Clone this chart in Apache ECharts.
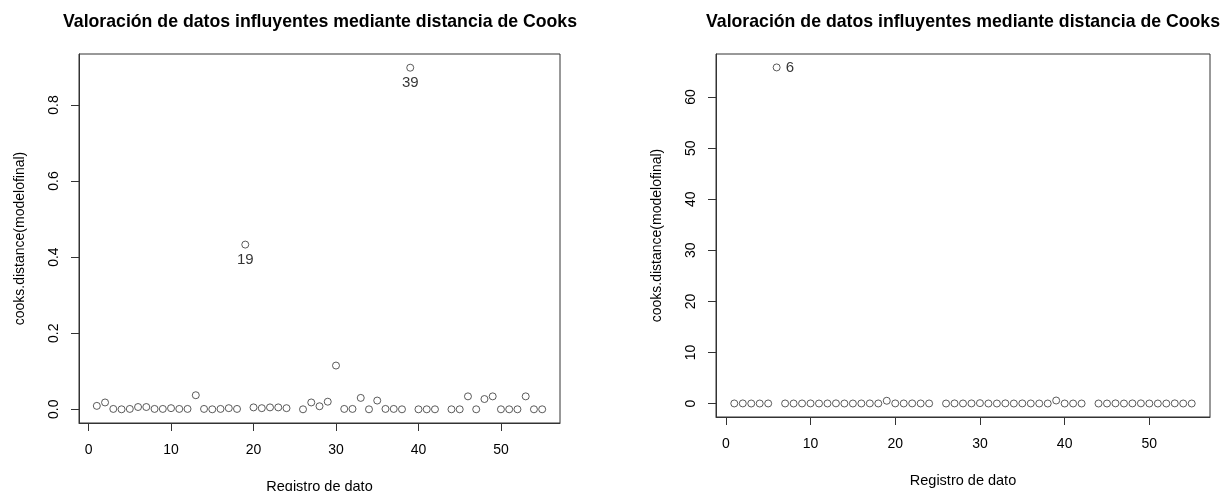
<!DOCTYPE html>
<html>
<head>
<meta charset="utf-8">
<script src="https://cdn.jsdelivr.net/npm/echarts@6/dist/echarts.min.js"></script>
<style>
html,body{margin:0;padding:0;background:#fff;}
#c{width:1227px;height:491px;}
</style>
</head>
<body>
<div id="c"></div>
<script>
const titleText = 'Valoración de datos influyentes mediante distancia de Cooks';
const xName = 'Registro de dato';
const yName = 'cooks.distance(modelofinal)';
const registros = [1,2,3,4,5,6,7,8,9,10,11,12,13,14,15,16,17,18,19,20,21,22,23,24,
  26,27,28,29,30,31,32,33,34,35,36,37,38,39,40,41,42,
  44,45,46,47,48,49,50,51,52,53,54,55];
const cooksLeft = [0.009,0.018,0.001,0.000,0.001,0.006,0.006,0.001,0.001,0.003,0.001,0.001,0.037,0.001,0.000,0.001,0.003,0.001,0.433,0.005,0.003,0.005,0.005,0.003,
  0.000,0.018,0.008,0.020,0.115,0.001,0.001,0.030,0.000,0.023,0.001,0.001,0.000,0.898,0.000,0.000,0.000,
  0.000,0.000,0.034,0.000,0.027,0.034,0.000,0.000,0.000,0.034,0.000,0.000];
const cooksRight = [0.02,0.03,0.01,0.01,0.02,65.8,0.02,0.01,0.02,0.03,0.01,0.02,0.04,0.01,0.01,0.02,0.03,0.02,0.55,0.03,0.02,0.03,0.02,0.02,
  0.01,0.03,0.02,0.03,0.08,0.01,0.01,0.04,0.01,0.03,0.02,0.01,0.01,0.60,0.01,0.01,0.01,
  0.01,0.01,0.04,0.01,0.03,0.04,0.01,0.01,0.01,0.04,0.01,0.01];
const labelledLeft = [19, 39];
const labelledRight = [6];
const xTicks = [0,10,20,30,40,50];
const yTicksLeft = [0,0.2,0.4,0.6,0.8];
const yTicksRight = [0,10,20,30,40,50,60];

const FONT = '"Liberation Sans", Arial, sans-serif';
const axisCol = '#333';

function pts(vals, labelled, pos) {
  return registros.map((r, i) => {
    const item = { value: [r, vals[i]] };
    if (labelled.indexOf(r) >= 0) {
      item.label = {
        show: true, position: pos, formatter: String(r),
        fontFamily: FONT, fontSize: 15, color: '#000',
        distance: pos === 'bottom' ? 4 : 5
      };
    }
    return item;
  });
}

function xAxis(gi) {
  return {
    gridIndex: gi, type: 'value', min: -1.16, max: 57.16,
    name: xName, nameLocation: 'middle', nameGap: 56,
    nameTextStyle: { fontFamily: FONT, fontSize: 14.5, color: '#000' },
    axisLine: { show: true, onZero: false, lineStyle: { color: axisCol } },
    axisTick: { show: true, inside: false, length: 8, lineStyle: { color: axisCol }, customValues: xTicks },
    axisLabel: { show: true, margin: 20, fontFamily: FONT, fontSize: 14, color: '#000', customValues: xTicks },
    splitLine: { show: false }
  };
}

function yAxis(gi, min, max, ticks, fmt) {
  return {
    gridIndex: gi, type: 'value', min: min, max: max,
    name: yName, nameLocation: 'middle', nameGap: 52, nameRotate: 90,
    nameTextStyle: { fontFamily: FONT, fontSize: 14, color: '#000' },
    axisLine: { show: true, onZero: false, lineStyle: { color: axisCol } },
    axisTick: { show: true, inside: false, length: 8, lineStyle: { color: axisCol }, customValues: ticks },
    axisLabel: { show: true, rotate: 90, margin: 18, fontFamily: FONT, fontSize: 14, color: '#000',
      customValues: ticks, formatter: fmt },
    splitLine: { show: false }
  };
}

const chart = echarts.init(document.getElementById('c'), null, { renderer: 'canvas' });
chart.setOption({
  backgroundColor: '#fff',
  animation: false,
  title: [
    { text: titleText, left: 315, top: 8, textAlign: 'center',
      textStyle: { fontFamily: FONT, fontSize: 17.7, fontWeight: 'bold', color: '#000' } },
    { text: titleText, left: 958, top: 8, textAlign: 'center',
      textStyle: { fontFamily: FONT, fontSize: 17.7, fontWeight: 'bold', color: '#000' } }
  ],
  grid: [
    { left: 79, top: 54, width: 481, height: 369, outerBoundsMode: 'none', containLabel: false,
      show: true, borderColor: axisCol, borderWidth: 1, backgroundColor: 'transparent' },
    { left: 716, top: 54, width: 494, height: 363, outerBoundsMode: 'none', containLabel: false,
      show: true, borderColor: axisCol, borderWidth: 1, backgroundColor: 'transparent' }
  ],
  xAxis: [xAxis(0), xAxis(1)],
  yAxis: [
    yAxis(0, -0.036, 0.934, yTicksLeft, v => v.toFixed(1)),
    yAxis(1, -2.63, 68.43, yTicksRight, v => String(Math.round(v)))
  ],
  series: [
    { type: 'scatter', xAxisIndex: 0, yAxisIndex: 0, symbol: 'circle', symbolSize: 7,
      itemStyle: { color: '#fff', borderColor: '#333', borderWidth: 1 },
      data: pts(cooksLeft, labelledLeft, 'bottom') },
    { type: 'scatter', xAxisIndex: 1, yAxisIndex: 1, symbol: 'circle', symbolSize: 7,
      itemStyle: { color: '#fff', borderColor: '#333', borderWidth: 1 },
      data: pts(cooksRight, labelledRight, 'right') }
  ]
});
</script>
</body>
</html>
